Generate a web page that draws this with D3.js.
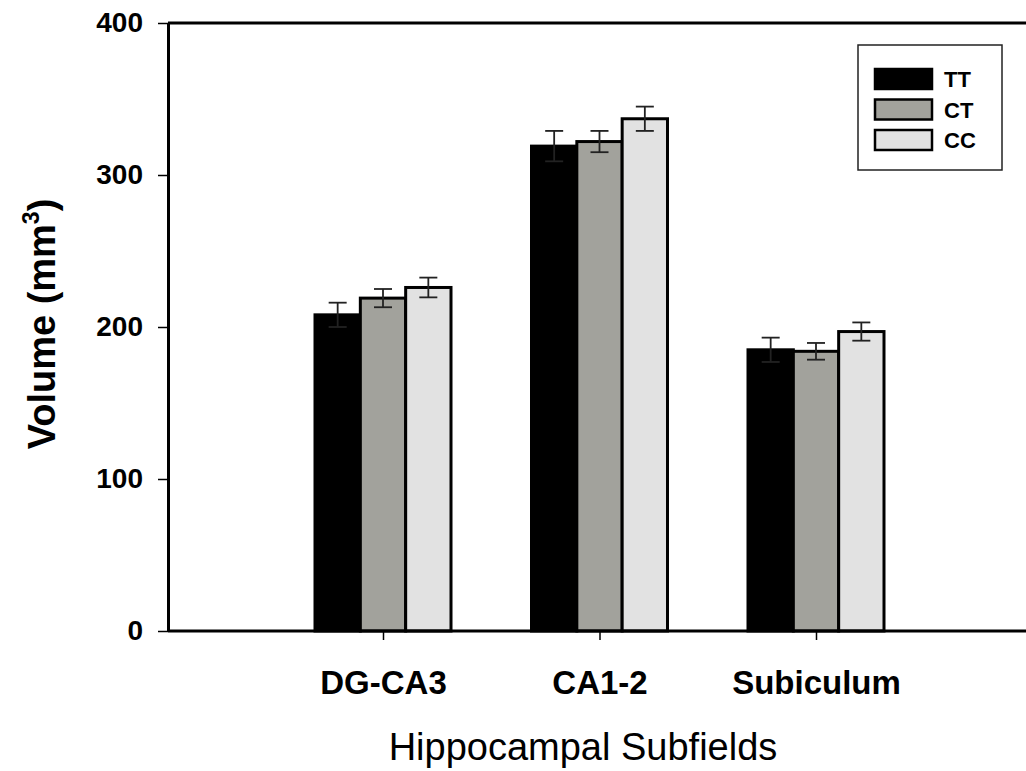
<!DOCTYPE html>
<html><head><meta charset="utf-8">
<script src="https://cdn.jsdelivr.net/npm/d3@7"></script>
<style>body{margin:0;background:#fff}svg{display:block;font-family:"Liberation Sans",Arial,sans-serif}</style>
</head><body>
<svg id="c" width="1026" height="771"></svg>
<script>
const categories = ["DG-CA3", "CA1-2", "Subiculum"];
const seriesNames = ["TT", "CT", "CC"];
const seriesColors = ["#000000", "#a2a29c", "#e2e2e2"];
const TT = [208, 319, 185];
const CT = [219, 322, 184];
const CC = [226, 337, 197];
const errTT = [8, 10, 8];
const errCT = [6, 7, 5.5];
const errCC = [6.5, 8, 6];
const yTicks = [0, 100, 200, 300, 400];

const values = [TT, CT, CC];
const errs = [errTT, errCT, errCC];

const svg = d3.select("#c");
const x0 = 168, x1 = 1026, yTop = 23, yBot = 631;
const y = d3.scaleLinear().domain([0, 400]).range([yBot, yTop]);
const xGroup = d3.scalePoint().domain(categories).range([383, 816]);
const xBar = d3.scaleBand().domain(seriesNames).range([-68, 68]).padding(0);

const g = svg.append("g");
categories.forEach((cat, ci) => {
  seriesNames.forEach((s, si) => {
    const v = values[si][ci], e = errs[si][ci];
    const bx = xGroup(cat) + xBar(s);
    const bw = xBar.bandwidth();
    g.append("rect").attr("x", bx).attr("y", y(v)).attr("width", bw).attr("height", y(0) - y(v))
      .attr("fill", seriesColors[si]).attr("stroke", "#000").attr("stroke-width", 3);
    const cx = bx + bw / 2;
    g.append("line").attr("x1", cx).attr("x2", cx).attr("y1", y(v + e)).attr("y2", y(v - e))
      .attr("stroke", "#222").attr("stroke-width", 1.8);
    [v + e, v - e].forEach(t => {
      g.append("line").attr("x1", cx - 9).attr("x2", cx + 9).attr("y1", y(t)).attr("y2", y(t))
        .attr("stroke", "#222").attr("stroke-width", 1.8);
    });
  });
});

// top border
svg.append("line").attr("x1", x0).attr("x2", x1).attr("y1", yTop).attr("y2", yTop).attr("stroke", "#000").attr("stroke-width", 3);

// y axis
const yAxis = d3.axisLeft(y).tickValues(yTicks).tickSize(10).tickPadding(15).tickSizeOuter(0);
const ya = svg.append("g").attr("transform", `translate(${x0},0)`).call(yAxis);
ya.select(".domain").attr("stroke-width", 3);
ya.selectAll(".tick line").attr("stroke-width", 1.5);
ya.selectAll("text").attr("font-size", 28).attr("font-weight", "bold").attr("fill", "#000")
  .attr("font-family", "'Liberation Sans',Arial,sans-serif");

// x axis
const xAxis = d3.axisBottom(xGroup).tickSize(9).tickPadding(31).tickSizeOuter(0);
const xa = svg.append("g").attr("transform", `translate(0,${yBot})`).call(xAxis);
xa.select(".domain").attr("d", `M${x0},0H${x1}`).attr("stroke-width", 3);
xa.selectAll(".tick line").attr("stroke-width", 1.5);
xa.selectAll("text").attr("font-size", 33).attr("font-weight", "bold").attr("fill", "#000")
  .attr("font-family", "'Liberation Sans',Arial,sans-serif");

// axis titles
const yt = svg.append("text").attr("transform", "translate(55,324) rotate(-90)").attr("text-anchor", "middle")
  .attr("font-size", 38).attr("font-weight", "bold");
yt.append("tspan").text("Volume (mm");
yt.append("tspan").attr("font-size", 23).attr("dy", -16).text("3");
yt.append("tspan").attr("dy", 16).text(")");

svg.append("text").attr("x", 583).attr("y", 760).attr("text-anchor", "middle").attr("font-size", 38)
  .text("Hippocampal Subfields");

// legend
const lg = svg.append("g");
lg.append("rect").attr("x", 858).attr("y", 45).attr("width", 144).attr("height", 125)
  .attr("fill", "#fff").attr("stroke", "#222").attr("stroke-width", 1.5);
seriesNames.forEach((s, i) => {
  const yy = 69 + i * 30.5;
  lg.append("rect").attr("x", 875).attr("y", yy).attr("width", 57).attr("height", 20)
    .attr("fill", seriesColors[i]).attr("stroke", "#000").attr("stroke-width", 2.5);
  lg.append("text").attr("x", 944).attr("y", yy + 18).attr("font-size", 22).attr("font-weight", "bold").text(s);
});
</script>
</body></html>
